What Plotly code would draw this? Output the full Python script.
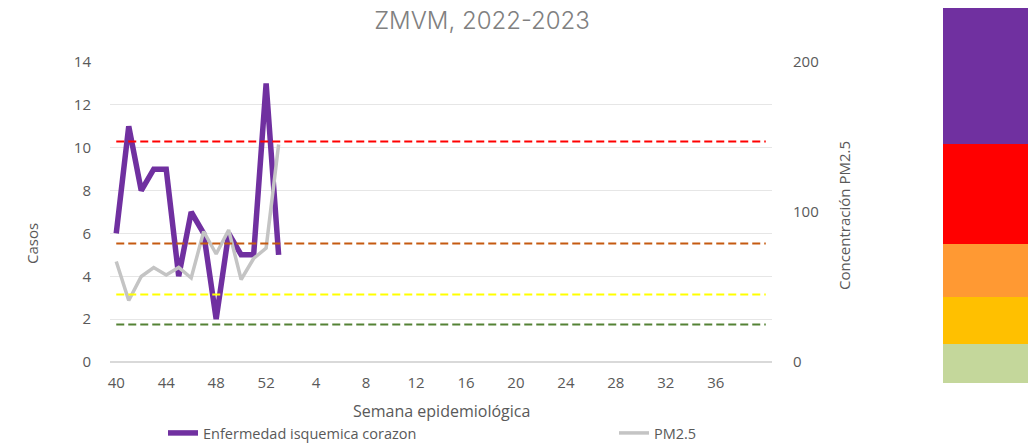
import plotly.graph_objects as go

# ---- data ----
semanas = [str(w) for w in range(40, 53)] + [str(w) for w in range(1, 41)]
casos = [6, 11, 8, 9, 9, 4, 7, 6, 2, 6, 5, 5, 13, 5]
pm25 = [67, 41, 57, 63, 58, 63, 56, 87, 72, 88, 55, 69, 76, 145]
umbral_nombres = ["Extremadamente mala", "Muy mala", "Mala", "Aceptable"]
umbral_valores = [147, 79, 45, 25]
umbral_colores = ["#FF0000", "#C55A11", "#FFFF00", "#548235"]
banda_colores = ["#7030A0", "#FF0000", "#FF9933", "#FFC000", "#C4D79B"]

OFF = 8  # page body margin of the browser
W, H = 1036 - OFF, 446 - OFF
# plot area in page px
L, R, T, B = 110, 772, 62, 362
pw, ph = R - L, B - T

def px_x(x):
    return (x - L) / pw

def px_y(y):
    return (B - y) / ph

idx = list(range(len(semanas)))
fig = go.Figure()

fig.add_trace(go.Scatter(
    x=idx[:len(casos)], y=casos, mode="lines", name="Enfermedad isquemica corazon",
    line=dict(color="#7030A0", width=5.5), yaxis="y", legend="legend"))
fig.add_trace(go.Scatter(
    x=idx[:len(pm25)], y=pm25, mode="lines", name="PM2.5",
    line=dict(color="#C4C4C4", width=3.5), yaxis="y2", legend="legend2"))
for nom, val, col in zip(umbral_nombres, umbral_valores, umbral_colores):
    fig.add_trace(go.Scatter(
        x=idx, y=[val] * len(idx), mode="lines", name=nom, showlegend=False,
        line=dict(color=col, width=2, dash="8px,4px"), yaxis="y2", hoverinfo="skip"))

tickvals = list(range(0, 49, 4))
ticktext = [semanas[i] for i in tickvals]

gris = "#595959"
tickfont = dict(family="Open Sans", size=15, color=gris)
legfont = dict(family="Open Sans", size=14.5, color=gris)

def leyenda(x_page):
    return dict(orientation="h", xref="container", yref="container",
                x=(x_page - OFF) / W, y=1 - (433 - OFF) / H, yanchor="middle", xanchor="left",
                font=legfont, bgcolor="rgba(0,0,0,0)")

fig.update_layout(
    width=W, height=H,
    margin=dict(l=L - OFF, r=W - (R - OFF), t=T - OFF, b=H - (B - OFF), autoexpand=False),
    paper_bgcolor="white", plot_bgcolor="white",
    title=dict(text="ZMVM, 2022-2023", x=(482 - OFF) / W, xanchor="center",
               y=1 - (21 - OFF) / H, yanchor="middle",
               font=dict(family="Inter", size=24, weight=300, color="#808080")),
    xaxis=dict(range=[-0.5, 52.5], tickmode="array", tickvals=tickvals, ticktext=ticktext,
               showgrid=False, zeroline=False, showline=False, ticks="",
               tickfont=dict(family="Open Sans", size=15, color=gris),
               ticklabelstandoff=10),
    yaxis=dict(range=[0, 14], dtick=2, showgrid=True, gridcolor="#E6E6E6", gridwidth=1,
               zeroline=True, zerolinecolor="#D9D9D9", zerolinewidth=2,
               showline=False, ticks="", tickfont=tickfont, ticklabelstandoff=18),
    yaxis2=dict(range=[0, 200], dtick=100, overlaying="y", side="right", showgrid=False,
                zeroline=False, showline=False, ticks="", tickfont=tickfont,
                ticklabelstandoff=20),
    showlegend=True,
    legend=leyenda(163),
    legend2=leyenda(614),
)

# axis titles
fig.add_annotation(text="Casos", xref="paper", yref="paper", x=px_x(32), y=px_y(244),
                   xanchor="center", yanchor="middle", textangle=-90, showarrow=False,
                   font=dict(family="Open Sans", size=15, color=gris))
fig.add_annotation(text="Concentración PM2.5", xref="paper", yref="paper", x=px_x(844), y=px_y(216),
                   xanchor="center", yanchor="middle", textangle=-90, showarrow=False,
                   font=dict(family="Open Sans", size=15, color=gris))
fig.add_annotation(text="Semana epidemiológica", xref="paper", yref="paper", x=px_x(441), y=px_y(411),
                   xanchor="center", yanchor="middle", showarrow=False,
                   font=dict(family="Open Sans", size=16, color=gris))

# color bands
bandas_px = [(8, 144), (144, 244), (244, 297), (297, 344), (344, 383)]
for (y0, y1), col in zip(bandas_px, banda_colores):
    fig.add_shape(type="rect", xref="paper", yref="paper",
                  x0=px_x(943), x1=px_x(1030), y0=px_y(y1), y1=px_y(y0),
                  fillcolor=col, line=dict(width=0), layer="above")

fig.write_html("out.html")
